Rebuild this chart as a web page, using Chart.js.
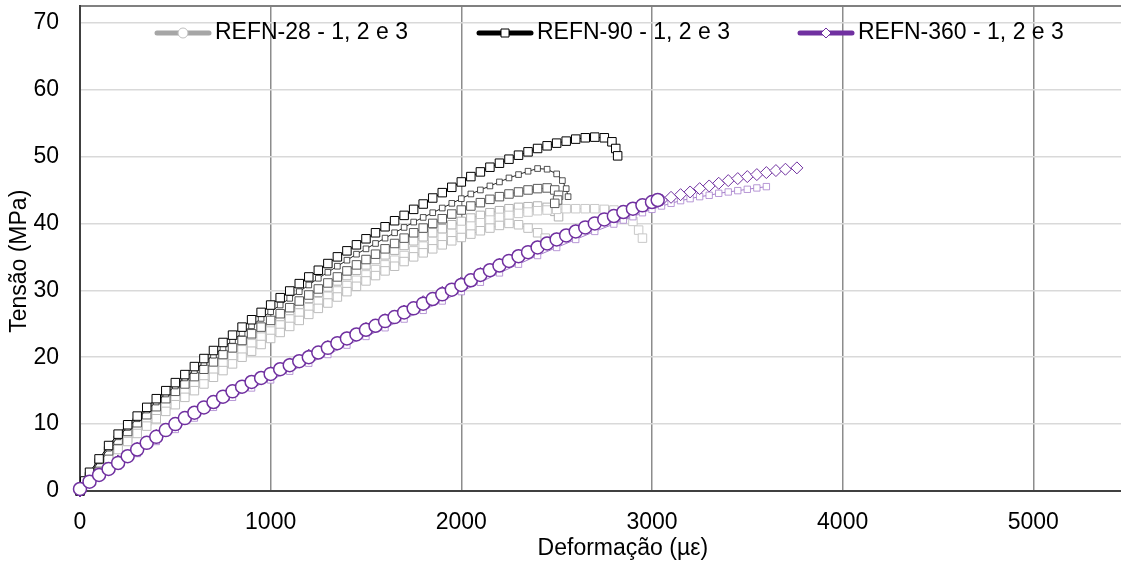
<!DOCTYPE html>
<html>
<head>
<meta charset="utf-8">
<script src="https://cdn.jsdelivr.net/npm/chart.js@4.4.1/dist/chart.umd.min.js"></script>
<style>
  html, body { margin: 0; padding: 0; background: #fff; }
  #wrap { width: 1121px; height: 562px; }
</style>
</head>
<body>
<div id="wrap"><canvas id="stressChart"></canvas></div>
<script>
// strain (µε) and stress (MPa), one pair of arrays per specimen
const eps28_1 = [0,50,100,150,200,250,300,350,400,450,500,550,600,650,700,750,800,850,900,950,1000,1050,1100,1150,1200,1250,1300,1350,1400,1450,1500,1550,1600,1650,1700,1750,1800,1850,1900,1950,2000,2050,2100,2150,2200,2250,2300,2350,2400,2440,2460];
const sig28_1 = [0,1.8,3.4,4.9,6.2,7.4,8.6,9.7,10.8,11.9,12.9,14.0,15.0,16.0,17.0,18.0,19.0,20.0,20.9,21.9,22.8,23.7,24.6,25.5,26.4,27.3,28.1,29.0,29.8,30.6,31.4,32.2,32.9,33.6,34.3,35.0,35.6,36.2,36.8,37.4,37.9,38.4,38.9,39.3,39.7,40.0,39.8,39.3,38.6,37.8,37.3];
const eps28_2 = [0,50,100,150,200,250,300,350,400,450,500,550,600,650,700,750,800,850,900,950,1000,1050,1100,1150,1200,1250,1300,1350,1400,1450,1500,1550,1600,1650,1700,1750,1800,1850,1900,1950,2000,2050,2100,2150,2200,2250,2300,2350,2400,2450,2500,2550,2600,2650,2700,2750,2800,2860,2900,2930,2950];
const sig28_2 = [0,2.0,3.7,5.2,6.6,7.9,9.2,10.4,11.6,12.7,13.8,14.9,16.0,17.1,18.1,19.1,20.1,21.1,22.0,23.0,23.9,24.8,25.7,26.6,27.4,28.3,29.1,29.9,30.7,31.5,32.3,33.1,33.8,34.5,35.2,35.9,36.6,37.3,37.9,38.5,39.1,39.6,40.1,40.5,40.9,41.2,41.5,41.7,41.9,42.0,42.1,42.2,42.2,42.2,42.2,42.1,42.0,41.3,40.3,39.0,37.8];
const eps28_3 = [0,50,100,150,200,250,300,350,400,450,500,550,600,650,700,750,800,850,900,950,1000,1050,1100,1150,1200,1250,1300,1350,1400,1450,1500,1550,1600,1650,1700,1750,1800,1850,1900,1950,2000,2050,2100,2150,2200,2250,2300,2350,2400,2450,2490,2510];
const sig28_3 = [0,2.1,4.0,5.6,7.1,8.5,9.8,11.1,12.3,13.5,14.6,15.8,16.9,18.0,19.1,20.2,21.2,22.2,23.2,24.2,25.1,26.1,27.0,27.9,28.8,29.7,30.5,31.4,32.2,33.0,33.8,34.6,35.3,36.0,36.7,37.4,38.0,38.6,39.2,39.8,40.3,40.8,41.2,41.6,41.9,42.2,42.4,42.5,42.6,42.4,41.8,41.0];

const eps90_1 = [0,25,50,100,150,200,250,300,350,400,450,500,550,600,650,700,750,800,850,900,950,1000,1050,1100,1150,1200,1250,1300,1350,1400,1450,1500,1550,1600,1650,1700,1750,1800,1850,1900,1950,2000,2050,2100,2150,2200,2250,2300,2350,2400,2450,2500,2550,2600,2650,2700,2750,2790,2810,2820];
const sig90_1 = [0,1.5,2.8,4.8,6.8,8.5,9.9,11.2,12.5,13.8,15.0,16.2,17.4,18.6,19.8,21.0,22.2,23.3,24.5,25.6,26.7,27.8,28.9,29.9,31.0,32.0,33.0,34.0,35.0,35.9,36.8,37.7,38.6,39.5,40.4,41.2,42.1,42.9,43.8,44.6,45.4,46.2,47.0,47.7,48.4,49.0,49.6,50.2,50.7,51.2,51.6,52.0,52.3,52.6,52.8,52.9,52.8,52.2,51.2,50.1];
const eps90_2 = [0,50,100,150,200,250,300,350,400,450,500,550,600,650,700,750,800,850,900,950,1000,1050,1100,1150,1200,1250,1300,1350,1400,1450,1500,1550,1600,1650,1700,1750,1800,1850,1900,1950,2000,2050,2100,2150,2200,2250,2300,2350,2400,2450,2500,2530,2550,2560];
const sig90_2 = [0,2.5,4.5,6.4,8.1,9.5,10.8,12.1,13.3,14.5,15.7,16.9,18.0,19.2,20.3,21.4,22.5,23.6,24.7,25.8,26.8,27.8,28.8,29.8,30.8,31.8,32.7,33.6,34.5,35.4,36.2,37.0,37.8,38.6,39.4,40.2,40.9,41.6,42.3,43.0,43.7,44.4,45.0,45.6,46.2,46.8,47.3,47.8,48.2,48.1,47.4,46.4,45.2,44.0];
const eps90_3 = [0,50,100,150,200,250,300,350,400,450,500,550,600,650,700,750,800,850,900,950,1000,1050,1100,1150,1200,1250,1300,1350,1400,1450,1500,1550,1600,1650,1700,1750,1800,1850,1900,1950,2000,2050,2100,2150,2200,2250,2300,2350,2400,2450,2490,2510,2505,2490];
const sig90_3 = [0,2.2,4.2,6.0,7.6,8.9,10.2,11.4,12.6,13.8,14.9,16.0,17.1,18.2,19.3,20.4,21.4,22.5,23.5,24.5,25.5,26.5,27.4,28.4,29.3,30.2,31.1,32.0,32.9,33.8,34.6,35.4,36.2,37.0,37.8,38.6,39.3,40.0,40.7,41.4,42.0,42.6,43.1,43.6,44.0,44.4,44.7,45.0,45.2,45.3,45.0,44.2,43.5,43.0];

const eps360_1 = [0,50,100,150,200,250,300,350,400,450,500,550,600,650,700,750,800,850,900,950,1000,1050,1100,1150,1200,1250,1300,1350,1400,1450,1500,1550,1600,1650,1700,1750,1800,1850,1900,1950,2000,2050,2100,2150,2200,2250,2300,2350,2400,2450,2500,2550,2600,2650,2700,2750,2800,2850,2900,2950,3000,3030];
const sig360_1 = [0.3,1.4,2.4,3.3,4.2,5.2,6.2,7.2,8.1,9.1,10.0,10.9,11.7,12.5,13.3,14.1,14.9,15.6,16.3,16.9,17.5,18.2,18.8,19.4,20.0,20.7,21.4,22.1,22.8,23.4,24.1,24.7,25.4,26.0,26.7,27.3,28.0,28.7,29.4,30.1,30.8,31.5,32.3,33.0,33.7,34.4,35.1,35.7,36.4,37.0,37.6,38.2,38.8,39.4,40.0,40.6,41.1,41.7,42.2,42.7,43.2,43.5];
const eps360_2 = [0,100,200,300,400,500,600,700,800,900,1000,1100,1200,1300,1400,1500,1600,1700,1800,1900,2000,2100,2200,2300,2400,2500,2600,2700,2800,2850,2900,2950,3000,3050,3100,3150,3200,3250,3300,3350,3400,3450,3500,3550,3600];
const sig360_2 = [0,2.0,3.7,5.6,7.4,9.2,10.9,12.5,14.0,15.4,16.6,17.9,19.1,20.4,21.8,23.1,24.4,25.7,27.0,28.4,29.8,31.2,32.6,33.9,35.2,36.4,37.6,38.8,39.9,40.5,41.0,41.6,42.1,42.6,43.0,43.4,43.7,44.0,44.2,44.5,44.7,44.9,45.1,45.3,45.5];
const eps360_3 = [0,100,200,300,400,500,600,700,800,900,1000,1100,1200,1300,1400,1500,1600,1700,1800,1900,2000,2100,2200,2300,2400,2500,2600,2700,2800,2850,2900,2950,3000,3050,3100,3150,3200,3250,3300,3350,3400,3450,3500,3550,3600,3650,3700,3760];
const sig360_3 = [0,2.5,4.5,6.4,8.3,10.1,11.8,13.4,15.0,16.4,17.7,19.0,20.3,21.6,22.9,24.3,25.6,26.9,28.3,29.7,31.1,32.5,33.9,35.2,36.5,37.7,38.9,40.0,41.1,41.6,42.1,42.6,43.1,43.5,43.9,44.3,44.7,45.2,45.6,46.0,46.4,46.7,47.0,47.3,47.6,47.9,48.1,48.3];

const legendLabels = ['REFN-28 - 1, 2 e 3', 'REFN-90 - 1, 2 e 3', 'REFN-360 - 1, 2 e 3'];
const xTickValues = [0, 1000, 2000, 3000, 4000, 5000];
const xMax = 5460;
const yMax = 72.5;

const PURPLE = '#7030a0';
const FONT = "'Liberation Sans', Arial, sans-serif";
const NB = '\u00a0';

function toPoints(xs, ys) {
  return xs.map((x, i) => ({ x: x, y: ys[i] }));
}

function series(label, xs, ys, color, style, radius, bw) {
  return {
    label: label,
    data: toPoints(xs, ys),
    showLine: true,
    borderColor: color,
    borderWidth: 1,
    pointStyle: style,
    pointRadius: radius,
    pointBorderColor: color,
    pointBorderWidth: bw,
    pointBackgroundColor: '#fff',
    clip: false
  };
}

// legend drawn inside the plot, like the spreadsheet original
const insideLegend = {
  id: 'insideLegend',
  afterDraw(chart) {
    const ctx = chart.ctx;
    const items = [
      { x: 155, color: '#a6a6a6', marker: 'circle' },
      { x: 477, color: '#000000', marker: 'square' },
      { x: 798, color: PURPLE, marker: 'diamond' }
    ];
    const y = 33;
    ctx.save();
    items.forEach((it, i) => {
      ctx.strokeStyle = it.color;
      ctx.lineWidth = 5;
      ctx.lineCap = 'round';
      ctx.beginPath();
      ctx.moveTo(it.x + 2, y);
      ctx.lineTo(it.x + 54, y);
      ctx.stroke();
      const cx = it.x + 28;
      ctx.fillStyle = '#fff';
      ctx.lineWidth = 1;
      ctx.lineCap = 'butt';
      ctx.beginPath();
      if (it.marker === 'circle') {
        ctx.strokeStyle = '#bfbfbf';
        ctx.arc(cx, y, 5, 0, Math.PI * 2);
      } else if (it.marker === 'square') {
        ctx.rect(cx - 4, y - 4, 8, 8);
      } else {
        ctx.moveTo(cx, y - 5); ctx.lineTo(cx + 5, y); ctx.lineTo(cx, y + 5); ctx.lineTo(cx - 5, y); ctx.closePath();
      }
      ctx.fill();
      ctx.stroke();
      ctx.fillStyle = '#000';
      ctx.font = '23px ' + FONT;
      ctx.textBaseline = 'middle';
      ctx.textAlign = 'left';
      ctx.fillText(legendLabels[i], it.x + 60, y);
    });
    ctx.restore();
  }
};

const ctx = document.getElementById('stressChart');

new Chart(ctx, {
  type: 'scatter',
  data: {
    datasets: [
      series('REFN-360 - 1', eps360_1, sig360_1, PURPLE, 'circle', 6.5, 1.5),
      series('REFN-360 - 3', eps360_3, sig360_3, PURPLE, 'rectRot', 6, 1),
      series('REFN-360 - 2', eps360_2, sig360_2, '#a67fcc', 'rect', 4.5, 0.8),
      series('REFN-90 - 1', eps90_1, sig90_1, '#000000', 'rect', 6, 1),
      series('REFN-90 - 2', eps90_2, sig90_2, '#262626', 'rect', 4, 0.8),
      series('REFN-90 - 3', eps90_3, sig90_3, '#595959', 'rect', 6, 1),
      series('REFN-28 - 1', eps28_1, sig28_1, '#bdbdbd', 'rect', 6, 1),
      series('REFN-28 - 2', eps28_2, sig28_2, '#c8c8c8', 'rect', 6, 1),
      series('REFN-28 - 3', eps28_3, sig28_3, '#b0b0b0', 'rect', 6, 1)
    ]
  },
  options: {
    responsive: true,
    maintainAspectRatio: false,
    animation: false,
    events: [],
    layout: { autoPadding: false, padding: { top: 6, left: 0, right: 0, bottom: 0 } },
    plugins: {
      legend: { display: false },
      tooltip: { enabled: false }
    },
    scales: {
      x: {
        type: 'linear',
        position: 'bottom',
        min: 0,
        max: xMax,
        ticks: {
          padding: 18, color: '#000', font: { family: FONT, size: 23 },
          callback: (v) => String(v)
        },
        afterBuildTicks(scale) {
          scale.ticks = xTickValues.map((v) => ({ value: v }));
        },
        grid: { color: '#8c8c8c', lineWidth: 1.5, drawTicks: false },
        border: { color: '#404040', width: 2 },
        title: { display: true, text: NB.repeat(7) + 'Deformação (µε)', color: '#000', font: { family: FONT, size: 23 }, padding: { top: 0, bottom: 0 } },
        afterFit(scale) {
          scale.height = 71;
          scale.paddingLeft = 0; scale.paddingRight = 0;
        }
      },
      xTop: {
        type: 'linear',
        position: 'top',
        min: 0,
        max: xMax,
        ticks: { display: false },
        grid: { display: false, drawTicks: false },
        border: { color: '#808080', width: 2 },
        afterFit(scale) {
          scale.height = 0;
          scale.paddingLeft = 0; scale.paddingRight = 0;
        }
      },
      y: {
        min: 0,
        max: yMax,
        ticks: { stepSize: 10, includeBounds: false, padding: 21, color: '#000', font: { family: FONT, size: 23 } },
        grid: { color: '#d9d9d9', lineWidth: 1.5, drawTicks: false },
        border: { color: '#404040', width: 2 },
        title: { display: true, text: 'Tensão (MPa)' + NB.repeat(4), color: '#000', font: { family: FONT, size: 23 }, padding: { top: 6, bottom: 0 } },
        afterFit(scale) {
          scale.width = 80;
          scale.paddingTop = 0; scale.paddingBottom = 0;
        }
      }
    }
  },
  plugins: [insideLegend]
});
</script>
</body>
</html>
